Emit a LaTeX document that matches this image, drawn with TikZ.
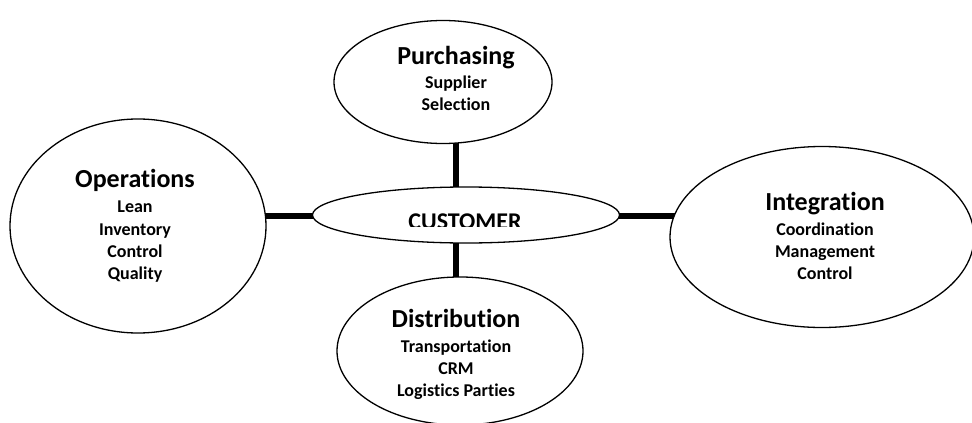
\documentclass[tikz,border=0pt]{standalone}
\usepackage{fontspec}
\setmainfont[Ligatures={NoCommon}]{Carlito}
\usetikzlibrary{shapes.geometric,backgrounds}
\tikzset{
  bubble/.style={ellipse, draw=black, line width=1.3pt, fill=white, inner sep=0pt},
  conn/.style={line width=6.5pt, draw=black},
  headtxt/.style={anchor=base, inner sep=0pt, font=\bfseries\fontsize{26}{30}\selectfont},
  itemtxt/.style={anchor=base, inner sep=0pt, font=\bfseries\fontsize{18}{22}\selectfont},
  custtxt/.style={anchor=base, inner sep=0pt, font=\bfseries\fontsize{24}{28}\selectfont}
}
\begin{document}
\begin{tikzpicture}[x=1pt,y=-1pt]
\useasboundingbox (0,0) rectangle (972,423);

% ellipses
\node[bubble, minimum width=218pt, minimum height=123pt] (pur) at (443,82) {};
\node[bubble, minimum width=307pt, minimum height=56pt] (cus) at (466,215) {};
\node[bubble, minimum width=256pt, minimum height=214pt] (ops) at (138,226) {};
\node[bubble, minimum width=304pt, minimum height=181pt] (int) at (822,237) {};
\node[bubble, minimum width=246pt, minimum height=148pt] (dis) at (460,351) {};

% connectors (behind the white ellipses)
\coordinate (vx) at (456,0);
\coordinate (hy) at (0,216);
\begin{scope}[on background layer]
  \fill[white] (0,0) rectangle (972,423);
  \draw[conn] (vx |- pur) -- (vx |- cus);
  \draw[conn] (vx |- cus) -- (vx |- dis);
  \draw[conn] (ops |- hy) -- (cus |- hy);
  \draw[conn] (cus |- hy) -- (int |- hy);
\end{scope}

% Purchasing
\node[headtxt] (purH) at (456,64) {Purchasing};
\node[itemtxt] (pur1) at (456,88) {Supplier};
\node[itemtxt] (pur2) at (456,110) {Selection};

% Customer (text clipped at the bottom)
\begin{scope}
  \clip (380,195) rectangle (550,226.5);
  \node[custtxt] (cusH) at (465,229) {CUSTOMER};
\end{scope}

% Operations
\node[headtxt] (opsH) at (135,187) {Operations};
\node[itemtxt] (ops1) at (135,212) {Lean};
\node[itemtxt] (ops2) at (135,235) {Inventory};
\node[itemtxt] (ops3) at (135,257) {Control};
\node[itemtxt] (ops4) at (135,279) {Quality};

% Integration
\node[headtxt] (intH) at (825,210) {Integration};
\node[itemtxt] (int1) at (825,235) {Coordination};
\node[itemtxt] (int2) at (825,257) {Management};
\node[itemtxt] (int3) at (825,279) {Control};

% Distribution
\node[headtxt] (disH) at (456,327) {Distribution};
\node[itemtxt] (dis1) at (456,352) {Transportation};
\node[itemtxt] (dis2) at (456,374) {CRM};
\node[itemtxt] (dis3) at (456,396) {Logistics Parties};
\end{tikzpicture}
\end{document}
